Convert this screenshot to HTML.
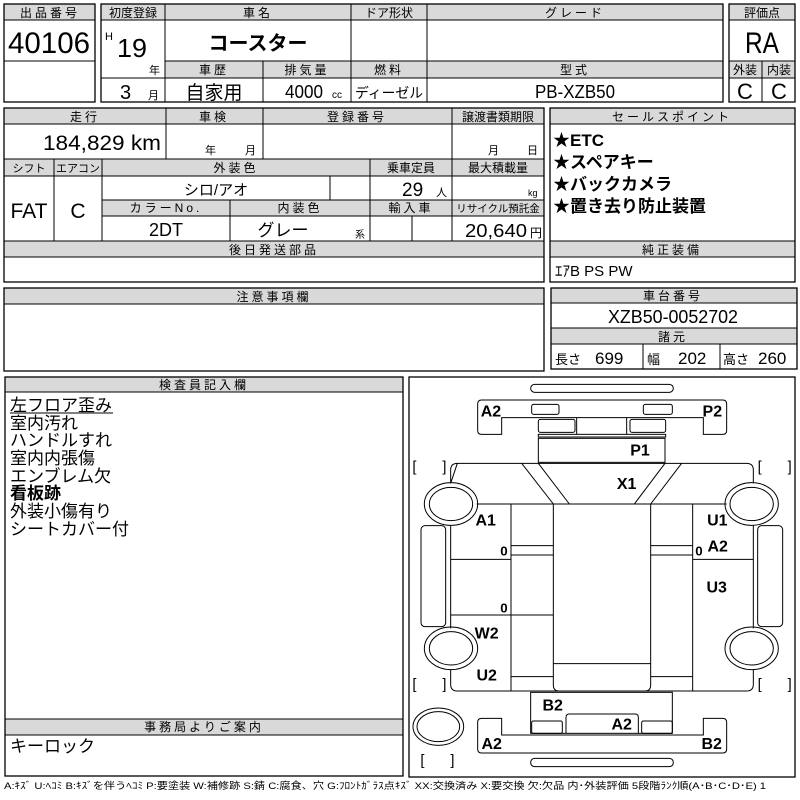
<!DOCTYPE html>
<html><head><meta charset="utf-8"><style>
html,body{margin:0;padding:0;background:#fff;}
svg{display:block;}
text{font-family:"Liberation Sans","Noto Sans CJK JP",sans-serif;fill:#000;}
.h{fill:#d9d9d9;stroke:#000;stroke-width:1;}
.b{fill:none;stroke:#000;stroke-width:1.3;}
.l{stroke:#000;stroke-width:1;}
.hd{font-size:12px;text-anchor:middle;letter-spacing:3px;}
.c{text-anchor:middle;}
</style></head><body>
<svg width="800" height="800" viewBox="0 0 800 800" xmlns="http://www.w3.org/2000/svg">
<rect width="800" height="800" fill="#fff"/>
<rect class="h" x="4" y="4" width="91" height="16"/>
<rect class="b" x="4" y="4" width="91" height="98"/>
<line class="l" x1="4" y1="61" x2="95" y2="61"/>
<text class="hd" x="50" y="17">出品番号</text>
<text x="49" y="53" class="c" font-size="30" textLength="82" lengthAdjust="spacingAndGlyphs">40106</text>
<rect class="h" x="101" y="4" width="622" height="16"/>
<rect class="h" x="165" y="61" width="558" height="17"/>
<rect class="b" x="101" y="4" width="622" height="98"/>
<line class="l" x1="165" y1="4" x2="165" y2="102"/>
<line class="l" x1="351" y1="4" x2="351" y2="102"/>
<line class="l" x1="427" y1="4" x2="427" y2="102"/>
<line class="l" x1="263" y1="61" x2="263" y2="102"/>
<line class="l" x1="101" y1="78" x2="165" y2="78"/>
<text class="c" x="133" y="17" font-size="12">初度登録</text>
<text class="hd" x="258" y="17">車名</text>
<text class="c" x="389" y="17" font-size="12">ドア形状</text>
<text class="hd" x="575" y="17" letter-spacing="8">グレード</text>
<text x="105" y="40" font-size="11">H</text>
<text x="117" y="57" font-size="26" textLength="30" lengthAdjust="spacingAndGlyphs">19</text>
<text x="149" y="74" font-size="11">年</text>
<text x="120" y="99" font-size="20">3</text>
<text x="148" y="99" font-size="11">月</text>
<text class="c" x="258" y="50" font-size="20" font-weight="bold">コースター</text>
<text class="hd" x="214" y="74">車歴</text>
<text class="hd" x="307" y="74">排気量</text>
<text class="hd" x="389" y="74">燃料</text>
<text class="hd" x="575" y="74">型式</text>
<text class="c" x="214" y="99" font-size="19">自家用</text>
<text x="285" y="98" font-size="18" textLength="38" lengthAdjust="spacingAndGlyphs">4000</text>
<text x="332" y="98" font-size="10">cc</text>
<text class="c" x="389" y="98" font-size="14" textLength="68" lengthAdjust="spacingAndGlyphs">ディーゼル</text>
<text class="c" x="575" y="98" font-size="18" textLength="80" lengthAdjust="spacingAndGlyphs">PB-XZB50</text>
<rect class="h" x="729" y="4" width="66" height="16"/>
<rect class="h" x="729" y="61" width="66" height="17"/>
<rect class="b" x="729" y="4" width="66" height="98"/>
<line class="l" x1="762" y1="61" x2="762" y2="102"/>
<text class="c" x="762" y="17" font-size="12">評価点</text>
<text class="c" x="762" y="53" font-size="30" textLength="34" lengthAdjust="spacingAndGlyphs">RA</text>
<text class="c" x="745" y="74" font-size="12">外装</text>
<text class="c" x="779" y="74" font-size="12">内装</text>
<text class="c" x="745" y="99" font-size="22">C</text>
<text class="c" x="779" y="99" font-size="22">C</text>
<rect class="h" x="4" y="108" width="540" height="16"/>
<rect class="h" x="4" y="159" width="540" height="17"/>
<rect class="h" x="102" y="200" width="442" height="16"/>
<rect class="h" x="4" y="241" width="540" height="16"/>
<rect class="b" x="4" y="108" width="540" height="174"/>
<line class="l" x1="166" y1="108" x2="166" y2="159"/>
<line class="l" x1="263" y1="108" x2="263" y2="159"/>
<line class="l" x1="452" y1="108" x2="452" y2="241"/>
<line class="l" x1="54" y1="159" x2="54" y2="241"/>
<line class="l" x1="102" y1="159" x2="102" y2="241"/>
<line class="l" x1="370" y1="159" x2="370" y2="241"/>
<line class="l" x1="330" y1="176" x2="330" y2="200"/>
<line class="l" x1="230" y1="200" x2="230" y2="241"/>
<line class="l" x1="412" y1="216" x2="412" y2="241"/>
<text class="hd" x="85" y="121">走行</text>
<text class="hd" x="214" y="121">車検</text>
<text class="hd" x="357" y="121">登録番号</text>
<text class="c" x="498" y="121" font-size="12">譲渡書類期限</text>
<text x="43" y="150" font-size="21" textLength="118" lengthAdjust="spacingAndGlyphs">184,829 km</text>
<text x="205" y="154" font-size="11">年</text>
<text x="245" y="154" font-size="11">月</text>
<text x="488" y="154" font-size="11">月</text>
<text x="527" y="154" font-size="11">日</text>
<text class="c" x="29" y="172" font-size="11">シフト</text>
<text class="c" x="78" y="172" font-size="11">エアコン</text>
<text class="hd" x="236" y="172">外装色</text>
<text class="c" x="411" y="172" font-size="12">乗車定員</text>
<text class="c" x="498" y="172" font-size="12">最大積載量</text>
<text class="c" x="216" y="195" font-size="15">シロ/アオ</text>
<text x="402" y="196" font-size="19">29</text>
<text x="436" y="196" font-size="11">人</text>
<text x="528" y="196" font-size="9">kg</text>
<text class="hd" x="166" y="212">カラーNo.</text>
<text class="hd" x="300" y="212">内装色</text>
<text class="hd" x="411" y="212">輸入車</text>
<text class="c" x="498" y="212" font-size="10.5">リサイクル預託金</text>
<text class="c" x="29" y="218" font-size="21">FAT</text>
<text class="c" x="78" y="218" font-size="21">C</text>
<text class="c" x="166" y="236" font-size="18">2DT</text>
<text class="c" x="283" y="236" font-size="17">グレー</text>
<text x="355" y="238" font-size="10">系</text>
<text x="465" y="237" font-size="18" textLength="62" lengthAdjust="spacingAndGlyphs">20,640</text>
<text x="530" y="237" font-size="12">円</text>
<text class="hd" x="274" y="254">後日発送部品</text>
<rect class="h" x="550" y="108" width="245" height="16"/>
<rect class="h" x="550" y="241" width="245" height="16"/>
<rect class="b" x="550" y="108" width="245" height="174"/>
<text class="hd" x="672" y="121" letter-spacing="7">セールスポイント</text>
<text x="553" y="146" font-size="17" font-weight="bold">★ETC</text>
<text x="553" y="168" font-size="17" font-weight="bold">★スペアキー</text>
<text x="553" y="190" font-size="17" font-weight="bold">★バックカメラ</text>
<text x="553" y="212" font-size="17" font-weight="bold">★置き去り防止装置</text>
<text class="hd" x="672" y="254">純正装備</text>
<text x="555" y="276" font-size="15">ｴｱB PS PW</text>
<rect class="h" x="4" y="288" width="540" height="16"/>
<rect class="b" x="4" y="288" width="540" height="83"/>
<text class="hd" x="274" y="301">注意事項欄</text>
<rect class="h" x="551" y="288" width="246" height="15"/>
<rect class="h" x="551" y="328" width="246" height="16"/>
<rect class="b" x="551" y="288" width="246" height="81"/>
<line class="l" x1="643" y1="344" x2="643" y2="369"/>
<line class="l" x1="720" y1="344" x2="720" y2="369"/>
<text class="hd" x="673" y="300">車台番号</text>
<text class="c" x="673" y="323" font-size="18" textLength="130" lengthAdjust="spacingAndGlyphs">XZB50-0052702</text>
<text class="hd" x="673" y="341">諸元</text>
<text x="555" y="364" font-size="13">長さ</text>
<text x="595" y="364" font-size="17">699</text>
<text x="647" y="364" font-size="13">幅</text>
<text x="678" y="364" font-size="17">202</text>
<text x="723" y="364" font-size="13">高さ</text>
<text x="758" y="364" font-size="17">260</text>
<rect class="h" x="5" y="377" width="398" height="15"/>
<rect class="h" x="5" y="719" width="398" height="16"/>
<rect class="b" x="5" y="377" width="398" height="399"/>
<text class="hd" x="204" y="389" letter-spacing="5">検査員記入欄</text>
<g font-size="17">
<text x="10" y="411">左フロア歪み</text>
<line class="l" x1="10" y1="413" x2="113" y2="413"/>
<text x="10" y="429">室内汚れ</text>
<text x="10" y="446">ハンドルすれ</text>
<text x="10" y="464">室内内張傷</text>
<text x="10" y="482">エンブレム欠</text>
<text x="10" y="499" font-weight="bold">看板跡</text>
<text x="10" y="517">外装小傷有り</text>
<text x="10" y="535">シートカバー付</text>
</g>
<text class="hd" x="204" y="731" letter-spacing="5">事務局よりご案内</text>
<text x="10" y="752" font-size="17">キーロック</text>
<rect class="b" x="409" y="377" width="386" height="400"/>
<g transform="translate(405,375) scale(0.33333)" fill="none" stroke="#000" stroke-width="3">
<rect x="377" y="28" width="428" height="24" rx="12"/>
<path d="M230,75 H953 Q965,75 965,87 V166 Q965,178 953,178 H895 V128 H290 V178 H230 Q218,178 218,166 V87 Q218,75 230,75Z"/>
<rect x="380" y="88" width="82" height="30" rx="6"/>
<rect x="715" y="88" width="87" height="30" rx="6"/>
<rect x="400" y="133" width="110" height="39" rx="6"/>
<rect x="675" y="133" width="107" height="39" rx="6"/>
<line x1="515" y1="128" x2="515" y2="178"/>
<line x1="665" y1="128" x2="665" y2="178"/>
<rect x="400" y="178" width="382" height="8"/>
<rect x="400" y="190" width="380" height="72"/>
<path d="M157,265 H1025 Q1045,265 1045,285 V325 M1045,450 V760 M1045,885 V928 Q1045,948 1025,948 H157 Q137,948 137,928 V885 M137,760 V450 M137,325 V285 Q137,265 157,265Z"/>
<ellipse cx="138" cy="387" rx="80" ry="64"/><ellipse cx="138" cy="387" rx="65" ry="50"/>
<ellipse cx="138" cy="820" rx="80" ry="64"/><ellipse cx="138" cy="820" rx="65" ry="50"/>
<ellipse cx="1040" cy="387" rx="80" ry="64"/><ellipse cx="1040" cy="387" rx="65" ry="50"/>
<ellipse cx="1040" cy="820" rx="80" ry="64"/><ellipse cx="1040" cy="820" rx="65" ry="50"/>
<ellipse cx="100" cy="1055" rx="76" ry="56"/><ellipse cx="100" cy="1055" rx="64" ry="45"/>
<rect x="48" y="452" width="74" height="303" rx="12"/>
<rect x="1058" y="452" width="75" height="303" rx="12"/>
<line x1="350" y1="265" x2="445" y2="387"/><line x1="400" y1="265" x2="493" y2="387"/>
<line x1="830" y1="265" x2="737" y2="387"/><line x1="780" y1="265" x2="688" y2="387"/>
<path d="M445,387 H737 V930 Q737,948 720,948 H462 Q445,948 445,930Z"/>
<line x1="445" y1="866" x2="737" y2="866"/>
<line x1="215" y1="387" x2="445" y2="387"/><line x1="737" y1="387" x2="965" y2="387"/>
<line x1="318" y1="387" x2="318" y2="948"/><line x1="863" y1="387" x2="863" y2="948"/>
<line x1="318" y1="512" x2="445" y2="512"/><line x1="318" y1="540" x2="445" y2="540"/>
<line x1="737" y1="512" x2="863" y2="512"/><line x1="737" y1="540" x2="863" y2="540"/>
<line x1="137" y1="553" x2="318" y2="553"/><line x1="863" y1="553" x2="1045" y2="553"/>
<line x1="137" y1="720" x2="445" y2="720"/>
<line x1="318" y1="905" x2="445" y2="905"/><line x1="737" y1="905" x2="863" y2="905"/>
<rect x="377" y="952" width="425" height="123"/>
<rect x="380" y="1038" width="92" height="37" rx="5"/>
<path d="M483,1075 V1027 Q483,1017 493,1017 H690 Q700,1017 700,1027 V1075"/>
<rect x="710" y="1038" width="92" height="37" rx="5"/>
<path d="M230,1030 H290 V1080 H895 V1030 H953 Q965,1030 965,1042 V1122 Q965,1134 953,1134 H230 Q218,1134 218,1122 V1042 Q218,1030 230,1030Z"/>
<rect x="377" y="1150" width="428" height="25" rx="12"/>
</g>
<g transform="translate(405,375) scale(0.33333)" font-size="44" stroke="none">
<text x="22" y="290">[</text><text x="112" y="290">]</text>
<text x="1058" y="290">[</text><text x="1148" y="290">]</text>
<text x="22" y="942">[</text><text x="112" y="942">]</text>
<text x="1058" y="942">[</text><text x="1148" y="942">]</text>
<text x="46" y="1170">[</text><text x="136" y="1170">]</text>
<g font-size="48" text-anchor="middle" font-weight="bold">
<text x="258" y="125">A2</text><text x="922" y="125">P2</text>
<text x="705" y="242">P1</text><text x="665" y="342">X1</text>
<text x="242" y="452">A1</text><text x="937" y="452">U1</text>
<text x="938" y="529">A2</text><text x="935" y="652">U3</text>
<text x="245" y="790">W2</text><text x="245" y="917">U2</text>
<text x="443" y="1007">B2</text><text x="650" y="1063">A2</text>
<text x="260" y="1122">A2</text><text x="920" y="1122">B2</text>
</g>
<g font-size="40" text-anchor="middle" font-weight="bold">
<text x="297" y="542">0</text><text x="882" y="542">0</text><text x="297" y="712">0</text>
</g>
</g>
<text x="4" y="789" font-size="9.5" textLength="762" lengthAdjust="spacingAndGlyphs">A:ｷｽﾞ U:ﾍｺﾐ B:ｷｽﾞを伴うﾍｺﾐ P:要塗装 W:補修跡 S:錆 C:腐食、穴 G:ﾌﾛﾝﾄｶﾞﾗｽ点ｷｽﾞ XX:交換済み X:要交換 欠:欠品 内･外装評価 5段階ﾗﾝｸ順(A･B･C･D･E) 1</text>
</svg>
</body></html>
